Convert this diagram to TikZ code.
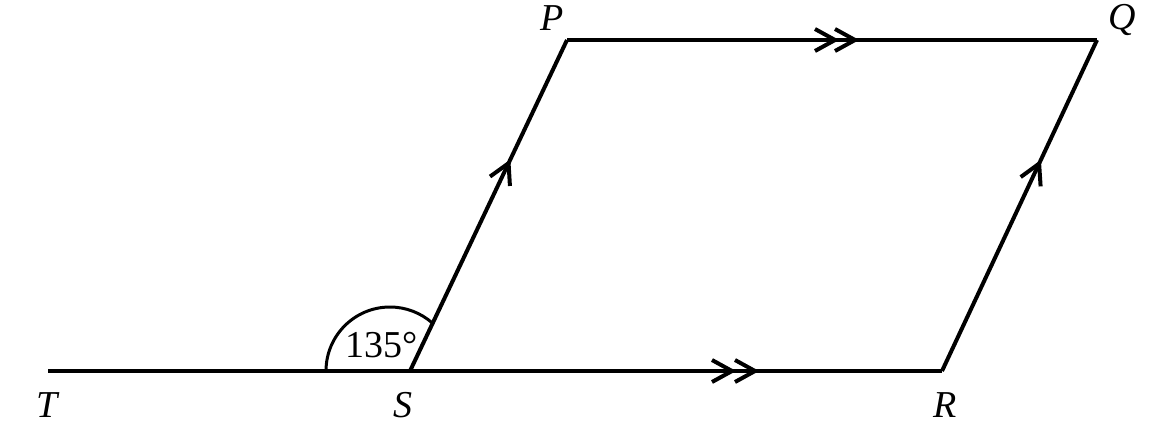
\documentclass[tikz,border=0pt]{standalone}
\usepackage{fontspec}
\setmainfont{Liberation Serif}
\usetikzlibrary{decorations.markings}
\tikzset{
    chev/.style={postaction={decorate,decoration={markings,
        mark=at position #1 with {\draw[line width=2pt] (-10pt,5.5pt) -- (0,0) -- (-10pt,-5.5pt);}}}},
    lbl/.style={font=\fontsize{19}{22}\selectfont\itshape}
}
\begin{document}
\begin{tikzpicture}[x=0.5pt,y=0.5pt,line width=2pt]
        \useasboundingbox (0,0) rectangle (1159,445);
        \coordinate (T) at (48,74);
        \coordinate (S) at (410,74);
        \coordinate (R) at (942,74);
        \coordinate (P) at (567,405);
        \coordinate (Q) at (1097,405);
        \draw (T) -- (S);
        \draw[chev=161pt,chev=172.5pt] (S) -- (R);
        \draw[chev=115pt] (S) -- (P);
        \draw[chev=134pt,chev=144pt] (P) -- (Q);
        \draw[chev=114.5pt] (R) -- (Q);
        \draw[line width=1.5pt] (326,74) arc[start angle=180,end angle=48,radius=64];
        \node[lbl] (lT) at (47,40) {T};
        \node[lbl] (lS) at (403,40) {S};
        \node[lbl] (lR) at (945,40) {R};
        \node[lbl] (lP) at (552,427) {P};
        \node[lbl] (lQ) at (1122,425) {Q};
        \node[font=\fontsize{19}{22}\selectfont] (ang) at (382,100) {135°};
    \end{tikzpicture}
\end{document}
